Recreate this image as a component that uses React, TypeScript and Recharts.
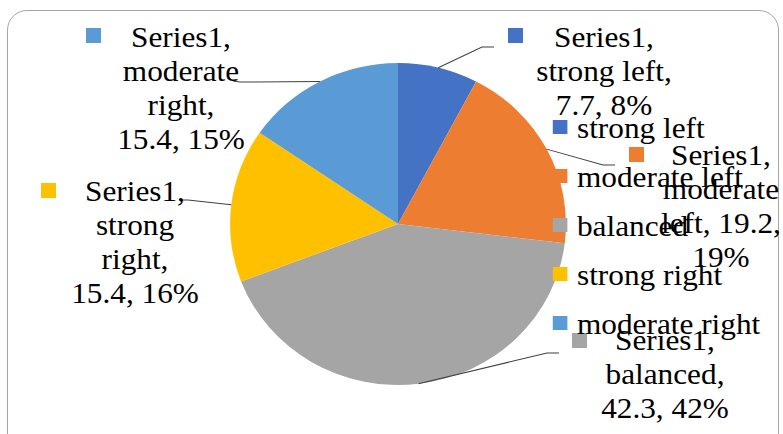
import React from 'react';
import { PieChart, Pie, Cell, Legend } from 'recharts';

// ---- data ----
const seriesName = 'Series1';
const categories = ['strong left', 'moderate left', 'balanced', 'strong right', 'moderate right'];
const seriesValues = [7.7, 19.2, 42.3, 15.4, 15.4];
const percentLabels = [8, 19, 42, 16, 15];
const colors = ['#4472C4', '#ED7D31', '#A5A5A5', '#FFC000', '#5B9BD5'];

const data = categories.map((name, i) => ({ name, value: seriesValues[i] }));

// ---- layout ----
const W = 783;
const H = 434;
const SX = 1.043; // the reference is slightly stretched horizontally
const CW = W / SX;
const sx = (x: number) => x / SX;

const FONT = "'Liberation Serif', 'Times New Roman', Times, serif";
const FS = 30;
const LH = 34;
const LEG_STEP = 49;

type LabelLayout = {
  cx: number;
  y0: number;
  mx: number;
  my: number;
  wrap: number[];
  path: number[][];
};

const labelLayout: LabelLayout[] = [
  { cx: 604, y0: 47, mx: 508, my: 28, wrap: [1, 2, 2], path: [[482, 47], [494, 47]] },
  { cx: 721, y0: 165, mx: 629, my: 147, wrap: [1, 1, 2, 1], path: [[603, 165], [615, 165]] },
  { cx: 665, y0: 350, mx: 572, my: 333, wrap: [1, 1, 2], path: [[547, 353], [559, 353]] },
  { cx: 135, y0: 201, mx: 41, my: 183, wrap: [1, 1, 1, 2], path: [[188, 200], [182, 200]] },
  { cx: 181, y0: 47, mx: 86, my: 28, wrap: [1, 1, 1, 2], path: [[240, 82], [233, 81]] },
];

const renderLabel = (props: any) => {
  const { cx, cy, midAngle, outerRadius, index } = props;
  const L = labelLayout[index];
  if (!L) return null;
  const a = (-midAngle * Math.PI) / 180;
  const ex = cx + outerRadius * Math.cos(a);
  const ey = cy + outerRadius * Math.sin(a);
  const tokens = `${seriesName}, ${categories[index]}, ${seriesValues[index]}, ${percentLabels[index]}%`.split(' ');
  const lines: string[] = [];
  let p = 0;
  L.wrap.forEach((n) => {
    lines.push(tokens.slice(p, p + n).join(' '));
    p += n;
  });
  const pts = [[ex, ey], ...L.path.map(([x, y]) => [sx(x), y])]
    .map((q) => `${q[0]},${q[1]}`)
    .join(' ');
  return (
    <g key={`lbl-${index}`}>
      <polyline points={pts} fill="none" stroke="#404040" strokeWidth={1} />
      <rect x={sx(L.mx)} y={L.my} width={sx(15)} height={15} fill={colors[index]} />
      {lines.map((t, k) => (
        <text
          key={k}
          x={sx(L.cx)}
          y={L.y0 + k * LH}
          textAnchor="middle"
          style={{ fontFamily: FONT, fontSize: FS }}
          fill="#000"
        >
          {t}
        </text>
      ))}
    </g>
  );
};

const renderLegend = (props: any) => {
  const payload = [...(props.payload || [])].sort(
    (a: any, b: any) => categories.indexOf(a.value) - categories.indexOf(b.value)
  );
  return (
    <div style={{ fontFamily: FONT, fontSize: FS, color: '#000' }}>
      {payload.map((item: any, i: number) => {
        const idx = categories.indexOf(item.value);
        const c = idx >= 0 ? colors[idx] : item.color;
        return (
          <div
            key={i}
            style={{ display: 'flex', alignItems: 'center', height: LEG_STEP, whiteSpace: 'nowrap' }}
          >
            <span
              style={{
                display: 'inline-block',
                width: sx(14),
                height: 14,
                background: c,
                marginRight: sx(10),
              }}
            />
            <span style={{ lineHeight: `${LEG_STEP}px` }}>{item.value}</span>
          </div>
        );
      })}
    </div>
  );
};

export default function App() {
  return (
    <div
      style={{
        position: 'fixed',
        left: 0,
        top: 0,
        width: W,
        height: H,
        overflow: 'hidden',
        background: '#fff',
      }}
    >
      <div
        style={{
          position: 'absolute',
          left: 7,
          top: 10,
          width: 772,
          height: 450,
          border: '1px solid #a6a6a6',
          borderRadius: 20,
          boxSizing: 'border-box',
        }}
      />
      <div
        style={{
          position: 'absolute',
          left: 0,
          top: 0,
          width: CW,
          height: H,
          transform: `scaleX(${SX})`,
          transformOrigin: '0 0',
        }}
      >
        <PieChart width={CW} height={H} margin={{ top: 0, right: 0, bottom: 0, left: 0 }}>
          <Pie
            data={data}
            dataKey="value"
            nameKey="name"
            cx={sx(398)}
            cy={224}
            outerRadius={161}
            startAngle={90}
            endAngle={-270}
            stroke="none"
            isAnimationActive={false}
            label={renderLabel}
            labelLine={false}
          >
            {data.map((d, i) => (
              <Cell key={d.name} fill={colors[i]} />
            ))}
          </Pie>
          <Legend
            layout="vertical"
            align="right"
            verticalAlign="top"
            itemSorter={null as any}
            content={renderLegend}
            wrapperStyle={{
              position: 'absolute',
              left: sx(553),
              top: 127 - LEG_STEP / 2,
              width: 'auto',
              height: 'auto',
            }}
          />
        </PieChart>
      </div>
    </div>
  );
}
